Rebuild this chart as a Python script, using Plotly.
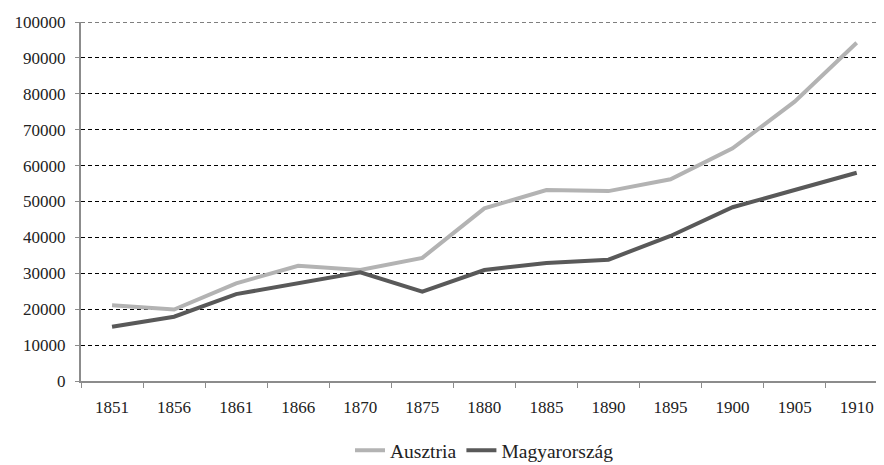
import plotly.graph_objects as go

years = ["1851", "1856", "1861", "1866", "1870", "1875", "1880", "1885", "1890", "1895", "1900", "1905", "1910"]
ausztria = [21100, 19900, 27200, 32100, 30900, 34300, 48100, 53200, 52900, 56200, 64800, 77800, 94200]
magyarorszag = [15100, 17900, 24200, 27200, 30300, 24900, 30900, 32900, 33800, 40400, 48400, 53200, 58000]

font_family = "Liberation Serif, Times New Roman, serif"

fig = go.Figure()
fig.add_trace(go.Scatter(x=years, y=ausztria, name="Ausztria", mode="lines",
                         line=dict(color="#b3b3b3", width=4)))
fig.add_trace(go.Scatter(x=years, y=magyarorszag, name="Magyarország", mode="lines",
                         line=dict(color="#595959", width=4)))

# page body has an 8px default margin; figure is sized to fill the window
fig.update_layout(
    width=876, height=457,
    margin=dict(l=73, r=0, t=14, b=84, autoexpand=False),
    paper_bgcolor="white", plot_bgcolor="white",
    font=dict(family=font_family, size=17, color="#222222"),
    showlegend=True,
    legend=dict(orientation="h", x=0.335, xanchor="left", y=-0.194, yanchor="middle",
                font=dict(size=19.5), itemwidth=30, tracegroupgap=0),
    shapes=[dict(type="line", xref="paper", yref="y", x0=0, x1=1, y0=100000, y1=100000,
                 line=dict(color="#000000", width=1, dash="4px,3px"))],
)
fig.update_xaxes(type="category", range=[-0.5, 12.44], automargin=False,
                 showline=True, linecolor="#8c8c8c", linewidth=2,
                 ticks="outside", tickson="boundaries", ticklen=5, tickcolor="#8c8c8c",
                 ticklabelstandoff=10,
                 showgrid=False, tickfont=dict(size=17))
fig.update_yaxes(range=[0, 100000], dtick=10000, tickformat="d", automargin=False,
                 showline=True, linecolor="#8c8c8c", linewidth=2,
                 ticks="outside", ticklen=4, tickcolor="#8c8c8c",
                 ticklabelstandoff=6,
                 showgrid=True, gridcolor="#000000", gridwidth=1, griddash="4px,3px",
                 zeroline=False, tickfont=dict(size=17))

fig.write_html("out.html")
